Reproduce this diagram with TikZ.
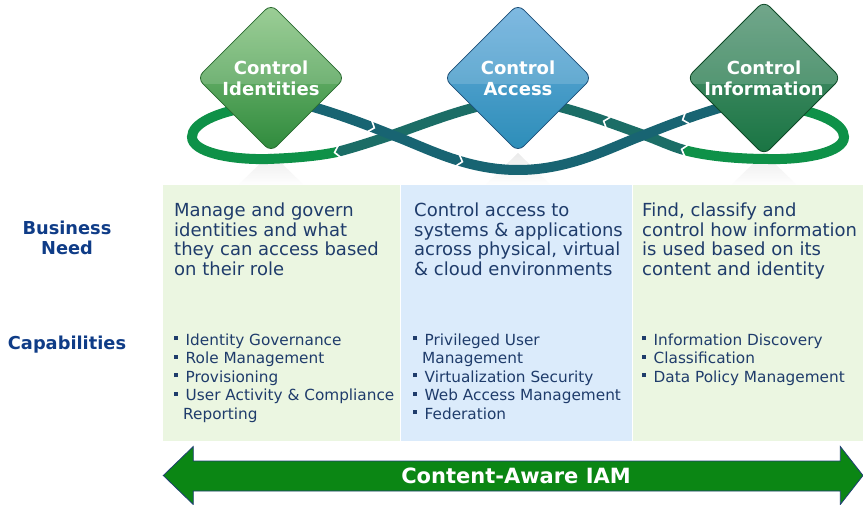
\documentclass[tikz,border=0pt]{standalone}
\usepackage{fontspec}
\setmainfont{DejaVu Sans}
\usetikzlibrary{shapes.geometric}

\definecolor{colgreen}{HTML}{EBF6E1}
\definecolor{colblue}{HTML}{DBEBFB}
\definecolor{txtblue}{HTML}{1F3C6B}
\definecolor{lblblue}{HTML}{0F3C87}
\definecolor{rgreen}{HTML}{0E9148}
\definecolor{rteal}{HTML}{1B6D66}
\definecolor{rdark}{HTML}{186472}
\definecolor{iamgreen}{HTML}{0B8614}
\definecolor{iamedge}{HTML}{1F3F73}
\definecolor{dia}{HTML}{8CC785}
\definecolor{dib}{HTML}{3F9A44}
\definecolor{dic}{HTML}{2E8A3C}
\definecolor{die}{HTML}{2A6A30}
\definecolor{dba}{HTML}{6AAEDD}
\definecolor{dbb}{HTML}{1A629A}
\definecolor{dbc}{HTML}{2C8DB8}
\definecolor{dbe}{HTML}{1D4F78}
\definecolor{dga}{HTML}{5A9878}
\definecolor{dgb}{HTML}{0C6334}
\definecolor{dgc}{HTML}{187442}
\definecolor{dge}{HTML}{0F4A28}

\newcommand{\bsq}{\makebox[11.5pt][l]{\rule[5pt]{4pt}{4pt}}}
\newcommand{\bcont}{\hspace*{9pt}}

\begin{document}
\begin{tikzpicture}[x=1pt,y=-1pt]
    \tikzstyle{diam}=[diamond, aspect=1, minimum width=148pt, minimum height=148pt, inner sep=0pt, rounded corners=8pt, line width=0.8pt, text=white, align=center, font=\fontsize{18pt}{21pt}\selectfont\bfseries, path picture={\fill[white, opacity=.15] (path picture bounding box.north west) rectangle ([yshift=-6pt]path picture bounding box.east);}]
    \tikzstyle{band}=[line width=10pt]
    \tikzstyle{chev}=[white, line width=1.6pt]
    \tikzstyle{refl}=[top color=black!8, bottom color=white]
    \tikzstyle{lbl}=[anchor=base, align=center, inner sep=0pt, text=lblblue, font=\fontsize{17.8pt}{20pt}\selectfont\bfseries]
    \tikzstyle{need}=[anchor=base west, align=left, inner sep=0pt, text=txtblue, font=\fontsize{18pt}{19.5pt}\selectfont]
    \tikzstyle{caps}=[anchor=base west, align=left, inner sep=0pt, text=txtblue, font=\fontsize{15.3pt}{18.5pt}\selectfont]
    \tikzstyle{iam}=[fill=iamgreen, draw=iamedge, line width=0.8pt]
    \tikzstyle{iamtext}=[anchor=base, inner sep=0pt, text=white, font=\fontsize{21pt}{24pt}\selectfont\bfseries]

    \useasboundingbox (0,0) rectangle (863,505);

    \shade[refl] (271,153) -- (305,186) -- (237,186) -- cycle;
    \shade[refl] (518,153) -- (552,186) -- (484,186) -- cycle;
    \shade[refl] (764,153) -- (798,186) -- (730,186) -- cycle;

    \fill[colgreen] (163,185) rectangle (400,441);
    \fill[colblue] (401,185) rectangle (632,441);
    \fill[colgreen] (633,185) rectangle (863,441);

    \draw[band, rgreen] (255,106) .. controls (215,112) and (192,124) .. (192,137) .. controls (192,152) and (230,160) .. (268,159) .. controls (295,158) and (318,156) .. (337,152);
    \draw[band, rteal] (337,152) .. controls (356,147) and (374,141) .. (392,135) .. controls (418,126) and (448,114) .. (480,106);
    \draw[band, rteal] (556,106) .. controls (588,114) and (618,126) .. (644,135) .. controls (658,140) and (670,146) .. (684,150);
    \draw[band, rgreen] (684,150) .. controls (706,156) and (738,159) .. (768,159) .. controls (806,160) and (844,152) .. (844,137) .. controls (844,124) and (821,112) .. (781,106);
    \draw[band, rdark] (286,100) .. controls (322,108) and (360,122) .. (392,135) .. controls (425,147) and (465,170) .. (518,170) .. controls (571,170) and (611,147) .. (644,135) .. controls (676,122) and (714,108) .. (750,100);

    \draw[chev, shift={(372,127)}, rotate=-21] (-2.5,-6) -- (2.5,0) -- (-2.5,6);
    \draw[chev, shift={(337,152)}, rotate=192] (-2.5,-6) -- (2.5,0) -- (-2.5,6);
    \draw[chev, shift={(460,161)}, rotate=-17] (-2.5,-6) -- (2.5,0) -- (-2.5,6);
    \draw[chev, shift={(606,122)}, rotate=161] (-2.5,-6) -- (2.5,0) -- (-2.5,6);
    \draw[chev, shift={(685,119)}, rotate=200] (-2.5,-6) -- (2.5,0) -- (-2.5,6);
    \draw[chev, shift={(684,150)}, rotate=164] (-2.5,-6) -- (2.5,0) -- (-2.5,6);

    \node[diam, top color=dia, middle color=dib, bottom color=dic, draw=die] (ident) at (271,78) {Control\\Identities};
    \node[diam, top color=dba, middle color=dbb, bottom color=dbc, draw=dbe] (access) at (518,78) {Control\\Access};
    \node[diam, top color=dga, middle color=dgb, bottom color=dgc, draw=dge] (info) at (764,78) {Control\\Information};

    \node[lbl] (business) at (67,255) {Business\\Need};
    \node[lbl] (capab) at (67,350) {Capabilities};

    \node[need] (needident) at (174,275.5) {Manage and govern\\identities and what\\they can access based\\on their role};
    \node[need] (needaccess) at (414,275.5) {Control access to\\systems \& applications\\across physical, virtual\\\& cloud environments};
    \node[need] (needinfo) at (642,275.5) {Find, classify and\\control how information\\is used based on its\\content and identity};

    \node[caps] (capident) at (174,419) {\bsq Identity Governance\\\bsq Role Management\\\bsq Provisioning\\\bsq User Activity \& Compliance\\\bcont Reporting};
    \node[caps] (capaccess) at (413,419) {\bsq Privileged User\\\bcont Management\\\bsq Virtualization Security\\\bsq Web Access Management\\\bsq Federation};
    \node[caps] (capinfo) at (642,382) {\bsq Information Discovery\\\bsq Classification\\\bsq Data Policy Management};

    \draw[iam] (163.3,475.5) -- (193.3,446.5) -- (193.3,461) -- (840.3,461) -- (840.3,446.5) -- (863,475.5) -- (840.3,504.5) -- (840.3,491) -- (193.3,491) -- (193.3,504.5) -- cycle;
    \node[iamtext] (iamlabel) at (516,483.3) {Content-Aware IAM};
\end{tikzpicture}
\end{document}
